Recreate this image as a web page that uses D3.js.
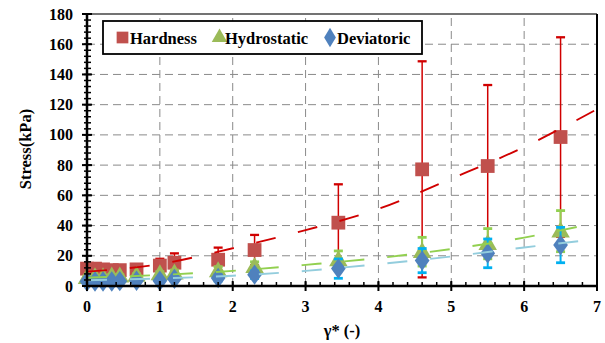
<!DOCTYPE html>
<html><head><meta charset="utf-8">
<script src="https://cdn.jsdelivr.net/npm/d3@7"></script>
<style>
html,body{margin:0;padding:0;background:#fff;}
svg text{font-family:'Liberation Serif','Times New Roman',serif;font-weight:700;}
</style></head>
<body><svg id="chart" width="605" height="343"></svg>
<script>
// ---- data ----
const gamma      = [0, 0.11, 0.22, 0.34, 0.45, 0.68, 1.0, 1.2, 1.8, 2.3, 3.45, 4.6, 5.5, 6.5];
const hardness   = [11.5, 11.5, 11, 10.5, 10.5, 11, 13.5, 15.4, 17.4, 23.8, 41.9, 77.2, 79.4, 98.6];
const hardnessErr= [2, 2, 2, 2, 2, 2, 4.5, 6.2, 8, 10, 25.4, 71.5, 53.6, 66];
const hydro      = [5.5, 6, 6, 6.5, 6.5, 7, 8, 8.5, 10, 12.8, 17.2, 22.7, 28, 36.3];
const hydroErr   = [1, 1, 1, 1, 1, 1, 1.5, 2, 2.8, 3.2, 6, 9.5, 10, 13.6];
const dev        = [3, 3, 3, 3, 3.2, 3.5, 3.5, 4.7, 5.3, 7.5, 11.5, 16.8, 21.6, 27.1];
const devErr     = [1, 1, 1, 1, 1, 1, 1, 1.5, 2, 2.5, 6.4, 8, 9.5, 11.7];
// trend lines (values read at integer gamma)
const trendX      = [0, 1, 2, 3, 4, 5, 6, 7];
const hardTrend   = [9.5, 14.5, 25, 37, 51, 71, 92, 117];
const hydroTrend  = [5.5, 7.3, 10, 14, 18.5, 24.5, 32, 42];
const devTrend    = [3.8, 5, 6.8, 10, 14.5, 19.5, 25.5, 31];
const xTicks = [0, 1, 2, 3, 4, 5, 6, 7];
const yTicks = [0, 20, 40, 60, 80, 100, 120, 140, 160, 180];
const seriesNames = ["Hardness", "Hydrostatic", "Deviatoric"];

const FONT = "'Liberation Serif', 'Times New Roman', serif";
const svg = d3.select("#chart");
const x = d3.scaleLinear().domain([0, 7]).range([87, 597]);
const y = d3.scaleLinear().domain([0, 180]).range([286, 14]);

// grid
const grid = svg.append("g").attr("stroke", "#8a8a8a").attr("stroke-width", 1).attr("stroke-dasharray", "8,5");
grid.selectAll(".h").data(yTicks.filter(t => t > 0 && t < 180)).join("line")
  .attr("x1", x(0)).attr("x2", x(7)).attr("y1", d => y(d)).attr("y2", d => y(d));
grid.selectAll(".v").data(xTicks.filter(t => t > 0 && t < 7)).join("line")
  .attr("x1", d => x(d)).attr("x2", d => x(d)).attr("y1", y(0)).attr("y2", y(180));

// frame top/right
svg.append("line").attr("x1", x(0)).attr("x2", x(7)).attr("y1", y(180)).attr("y2", y(180)).attr("stroke", "#444").attr("stroke-width", 1.5);
svg.append("line").attr("x1", x(7)).attr("x2", x(7)).attr("y1", y(180)).attr("y2", y(0)).attr("stroke", "#000").attr("stroke-width", 2);

// error bars + markers
function errorBars(vals, errs, color, w, capW) {
  const gg = svg.append("g").attr("stroke", color).attr("stroke-width", w);
  gamma.forEach((gx, i) => {
    const cx = x(gx), top = y(vals[i] + errs[i]), bot = y(Math.max(0, vals[i] - errs[i]));
    gg.append("line").attr("x1", cx).attr("x2", cx).attr("y1", top).attr("y2", bot);
    gg.append("line").attr("x1", cx - capW/2).attr("x2", cx + capW/2).attr("y1", top).attr("y2", top).attr("stroke-width", w + 0.8);
    if (vals[i] - errs[i] > 0)
      gg.append("line").attr("x1", cx - capW/2).attr("x2", cx + capW/2).attr("y1", bot).attr("y2", bot).attr("stroke-width", w + 0.8);
  });
}
const sym = {
  sq: d3.symbol().type(d3.symbolSquare).size(190),
  tri: d3.symbol().type(d3.symbolTriangle).size(95),
  dia: d3.symbol().type(d3.symbolDiamond).size(120)
};

errorBars(hardness, hardnessErr, "#d00000", 1.5, 9);
svg.append("g").selectAll("path").data(gamma).join("path")
  .attr("d", sym.sq).attr("fill", "#c0504d")
  .attr("transform", (d, i) => `translate(${x(d)},${y(hardness[i])})`);

errorBars(hydro, hydroErr, "#92d050", 2, 9);
svg.append("g").selectAll("path").data(gamma).join("path")
  .attr("d", sym.tri).attr("fill", "#9bbb59")
  .attr("transform", (d, i) => `translate(${x(d)},${y(hydro[i]) + 1}) scale(1.25,1.25)`);

errorBars(dev, devErr, "#00b0f0", 2, 9);
svg.append("g").selectAll("path").data(gamma).join("path")
  .attr("d", sym.dia).attr("fill", "#4f81bd")
  .attr("transform", (d, i) => `translate(${x(d)},${y(dev[i])}) scale(1.25,1)`);

// trend lines
const line = d3.line().x(d => x(d[0])).y(d => y(d[1])).curve(d3.curveMonotoneX);
[[hardTrend, "#d00000"], [hydroTrend, "#92d050"], [devTrend, "#93cddd"]].forEach(([vals, c]) => {
  svg.append("path").datum(trendX.map((t, i) => [t, vals[i]]))
    .attr("d", line).attr("fill", "none").attr("stroke", c).attr("stroke-width", 1.9)
    .attr("stroke-dasharray", "20,23");
});

// axes
const yAxis = svg.append("g");
yAxis.append("line").attr("x1", x(0)).attr("x2", x(0)).attr("y1", y(0)).attr("y2", y(180)).attr("stroke", "#000").attr("stroke-width", 2.5);
yAxis.selectAll(".mt").data(d3.range(0, 181, 4)).join("line")
  .attr("x1", x(0) - 3).attr("x2", x(0) + 4).attr("y1", d => y(d)).attr("y2", d => y(d)).attr("stroke", "#000").attr("stroke-width", 1.5);
yAxis.selectAll(".Mt").data(yTicks).join("line")
  .attr("x1", x(0) - 5).attr("x2", x(0) + 5).attr("y1", d => y(d)).attr("y2", d => y(d)).attr("stroke", "#000").attr("stroke-width", 2);
yAxis.selectAll("text").data(yTicks).join("text")
  .attr("x", 73).attr("y", d => y(d)).attr("dy", "0.35em").attr("text-anchor", "end")
  .attr("font-family", FONT).attr("font-weight", "bold")
  .attr("font-size", 16).text(d => d);

const xAxis = svg.append("g");
xAxis.append("line").attr("x1", x(0)).attr("x2", x(7)).attr("y1", y(0)).attr("y2", y(0)).attr("stroke", "#000").attr("stroke-width", 2.5);
xAxis.selectAll(".mt").data(d3.range(0, 35).map(i => i * 0.2)).join("line")
  .attr("x1", d => x(d)).attr("x2", d => x(d)).attr("y1", y(0) - 4).attr("y2", y(0)).attr("stroke", "#000").attr("stroke-width", 1.5);
xAxis.selectAll(".Mt").data(xTicks).join("line")
  .attr("x1", d => x(d)).attr("x2", d => x(d)).attr("y1", y(0) - 5).attr("y2", y(0) + 5).attr("stroke", "#000").attr("stroke-width", 2);
xAxis.selectAll("text").data(xTicks).join("text")
  .attr("x", d => x(d)).attr("y", 312).attr("text-anchor", "middle")
  .attr("font-family", FONT).attr("font-weight", "bold")
  .attr("font-size", 16).text(d => d);

// titles
svg.append("text").attr("transform", "translate(31,149) rotate(-90)").attr("text-anchor", "middle")
  .attr("font-family", FONT).attr("font-weight", "bold")
  .attr("font-size", 16.5).text("Stress(kPa)");
svg.append("text").attr("x", 342).attr("y", 336).attr("text-anchor", "middle")
  .attr("font-family", FONT).attr("font-weight", "bold")
  .attr("font-size", 16.5).text("γ* (-)");

// legend
const lg = svg.append("g");
lg.append("rect").attr("x", 103).attr("y", 21).attr("width", 319).attr("height", 33)
  .attr("fill", "#fff").attr("stroke", "#000").attr("stroke-width", 1.8);
const legendItems = [
  {name: seriesNames[0], sym: sym.sq, fill: "#c0504d", mx: 122.5, tx: 130, tf: "scale(0.85)"},
  {name: seriesNames[1], sym: sym.tri, fill: "#9bbb59", mx: 219.5, tx: 225, tf: "scale(1.05)"},
  {name: seriesNames[2], sym: sym.dia, fill: "#4f81bd", mx: 330, tx: 337, tf: "scale(1,0.95)"}
];
legendItems.forEach(it => {
  lg.append("path").attr("d", it.sym).attr("fill", it.fill)
    .attr("transform", `translate(${it.mx},37.5) ${it.tf}`);
  lg.append("text").attr("x", it.tx).attr("y", 43.5)
    .attr("font-family", FONT).attr("font-weight", "bold")
    .attr("font-size", 16.5).text(it.name);
});
</script></body></html>
